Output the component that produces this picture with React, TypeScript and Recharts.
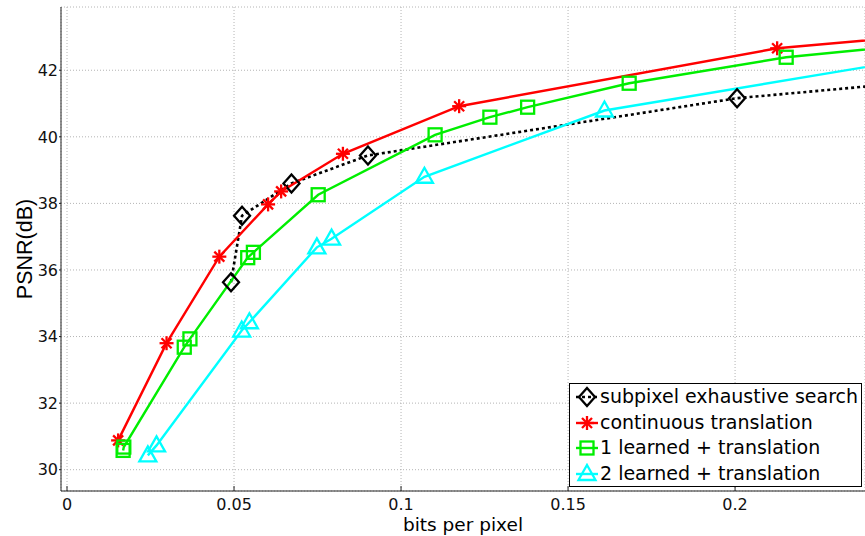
import React from "react";
import {
  LineChart,
  Line,
  CartesianGrid,
  XAxis,
  YAxis,
  Legend,
  Label,
} from "recharts";

// Axis ticks
const xTicks = [0, 0.05, 0.1, 0.15, 0.2];
const yTicks = [30, 32, 34, 36, 38, 40, 42];

// Series values (last point of each runs past the right edge)
const subpixelX = [0.0491, 0.0524, 0.0672, 0.0901, 0.2006, 0.25];
const subpixelY = [35.63, 37.63, 38.6, 39.44, 41.16, 41.61];

const continuousX = [0.0153, 0.0298, 0.0456, 0.0602, 0.0641, 0.0826, 0.1174, 0.2126, 0.25];
const continuousY = [30.88, 33.8, 36.4, 37.97, 38.36, 39.49, 40.92, 42.66, 42.99];

const learned1X = [0.0168, 0.017, 0.0351, 0.0368, 0.0541, 0.0558, 0.0752, 0.1102, 0.1266, 0.1379, 0.1683, 0.2153, 0.25];
const learned1Y = [30.58, 30.68, 33.68, 33.93, 36.37, 36.53, 38.26, 40.06, 40.59, 40.89, 41.61, 42.39, 42.73];

const learned2X = [0.0242, 0.0268, 0.0523, 0.0546, 0.0748, 0.0792, 0.107, 0.1609, 0.25];
const learned2Y = [30.43, 30.73, 34.18, 34.43, 36.68, 36.94, 38.8, 40.79, 42.28];

const toPoints = (xs: number[], ys: number[]) =>
  xs.map((x, i) => ({ x, y: ys[i] }));

type MarkerType = "diamond" | "star" | "square" | "triangle";

const series: {
  name: string;
  data: { x: number; y: number }[];
  color: string;
  marker: MarkerType;
  dash?: string;
  width: number;
}[] = [
  { name: "subpixel exhaustive search", data: toPoints(subpixelX, subpixelY), color: "#000000", marker: "diamond", dash: "3 3", width: 2.6 },
  { name: "continuous translation", data: toPoints(continuousX, continuousY), color: "#ff0000", marker: "star", width: 2.4 },
  { name: "1 learned + translation", data: toPoints(learned1X, learned1Y), color: "#00ee00", marker: "square", width: 2.4 },
  { name: "2 learned + translation", data: toPoints(learned2X, learned2Y), color: "#00ffff", marker: "triangle", width: 2.4 },
];

const Marker = ({ type, cx, cy, color }: { type: MarkerType; cx: number; cy: number; color: string }) => {
  const common = { fill: "none", stroke: color, strokeWidth: 2.3 };
  if (type === "diamond") {
    return <path d={`M${cx},${cy - 9}L${cx + 8},${cy}L${cx},${cy + 9}L${cx - 8},${cy}Z`} {...common} />;
  }
  if (type === "square") {
    return <rect x={cx - 6.5} y={cy - 6.5} width={13} height={13} {...common} />;
  }
  if (type === "triangle") {
    return <path d={`M${cx},${cy - 9}L${cx + 8.5},${cy + 6}L${cx - 8.5},${cy + 6}Z`} {...common} />;
  }
  // star: plus + cross
  return (
    <g {...common}>
      <line x1={cx - 7} y1={cy} x2={cx + 7} y2={cy} />
      <line x1={cx} y1={cy - 7} x2={cx} y2={cy + 7} />
      <line x1={cx - 5} y1={cy - 5} x2={cx + 5} y2={cy + 5} />
      <line x1={cx - 5} y1={cy + 5} x2={cx + 5} y2={cy - 5} />
    </g>
  );
};

const makeDot = (type: MarkerType, color: string) => (props: any) => {
  const { cx, cy, index } = props;
  if (cx == null || cy == null) return <g key={`${type}-${index}`} />;
  return (
    <g key={`${type}-${index}`}>
      <Marker type={type} cx={cx} cy={cy} color={color} />
    </g>
  );
};

const LegendBox = () => (
  <div
    style={{
      boxSizing: "border-box",
      width: 293,
      height: 104,
      border: "1px solid #000",
      background: "#fff",
      padding: "0 4px 0 5px",
      fontFamily: "DejaVu Sans",
      fontSize: 19,
      lineHeight: "25.7px",
      color: "#000",
    }}
  >
    {series.map((s) => (
      <div key={s.name} style={{ display: "flex", alignItems: "center", height: 25.7 }}>
        <svg width={24} height={22} style={{ flex: "none", marginRight: 1 }}>
          <line x1={1} y1={11} x2={23} y2={11} stroke={s.color} strokeWidth={s.width} strokeDasharray={s.dash} />
          <Marker type={s.marker} cx={12} cy={11} color={s.color} />
        </svg>
        <span style={{ whiteSpace: "nowrap" }}>{s.name}</span>
      </div>
    ))}
  </div>
);

const tickStyle = { fontFamily: "DejaVu Sans", fontSize: 16, fill: "#111" };

const App: React.FC = () => {
  return (
    <div style={{ position: "absolute", left: 0, top: 0, width: 865, height: 536, overflow: "hidden", background: "#fff" }}>
      <LineChart width={865} height={536} margin={{ top: 7, right: 0, bottom: 0, left: 0 }}>
        <CartesianGrid stroke="#b4b4b4" strokeDasharray="1 2" />
        <XAxis
          type="number"
          dataKey="x"
          domain={[-0.0018, 0.2389]}
          ticks={xTicks}
          interval={0}
          allowDataOverflow
          height={45}
          tickSize={-5}
          tickMargin={13}
          tick={tickStyle}
          tickFormatter={(v) => String(v)}
          stroke="#222"
        >
          <Label
            value="bits per pixel"
            position="insideBottom"
            offset={5}
            style={{ fontFamily: "DejaVu Sans", fontSize: 18.5, fill: "#000" }}
          />
        </XAxis>
        <YAxis
          type="number"
          dataKey="y"
          domain={[29.36, 43.9]}
          ticks={yTicks}
          interval={0}
          allowDataOverflow
          width={61}
          tickSize={2}
          tickMargin={1}
          tick={tickStyle}
          stroke="#222"
        >
          <Label
            value="PSNR(dB)"
            angle={-90}
            position="insideLeft"
            offset={24}
            textAnchor="middle"
            style={{ fontFamily: "Liberation Sans", fontSize: 21.5, fill: "#000", textAnchor: "middle" }}
          />
        </YAxis>
        <Legend
          layout="vertical"
          align="center"
          verticalAlign="middle"
          content={() => <LegendBox />}
          wrapperStyle={{ left: 569, top: 383, width: 293, height: 104 }}
        />
        {series.map((s) => (
          <Line
            key={s.name}
            name={s.name}
            data={s.data}
            dataKey="y"
            type="linear"
            stroke={s.color}
            strokeWidth={s.width}
            strokeDasharray={s.dash}
            dot={makeDot(s.marker, s.color)}
            activeDot={false}
            isAnimationActive={false}
          />
        ))}
      </LineChart>
    </div>
  );
};

export default App;
